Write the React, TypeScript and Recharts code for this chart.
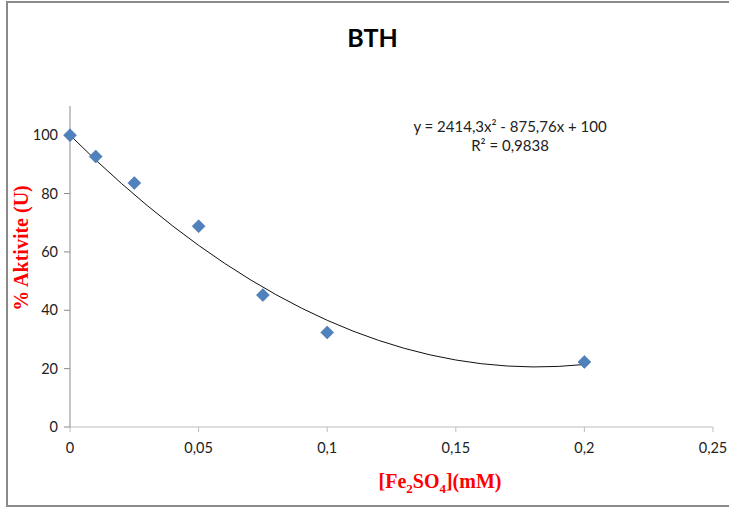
import React from 'react';
import { ScatterChart, Scatter, XAxis, YAxis } from 'recharts';

// Fe2SO4 concentration (mM) vs % activity
const concentrations = [0, 0.01, 0.025, 0.05, 0.075, 0.1, 0.2];
const activity = [100, 92.7, 83.6, 68.8, 45.2, 32.4, 22.3];

const xTicks = [0, 0.05, 0.1, 0.15, 0.2, 0.25];
const yTicks = [0, 20, 40, 60, 80, 100];

// polynomial trendline shown on the chart: y = a*x^2 + b*x + c
const trendCoef = { a: 2414.3, b: -875.76, c: 100 };
const trendX = [
  0, 0.01, 0.02, 0.03, 0.04, 0.05, 0.06, 0.07, 0.08, 0.09, 0.1, 0.11, 0.12,
  0.13, 0.14, 0.15, 0.16, 0.17, 0.18, 0.19, 0.2,
];

const points = concentrations.map((x, i) => ({ x, y: activity[i] }));
const trend = trendX.map(x => ({
  x,
  y: trendCoef.a * x * x + trendCoef.b * x + trendCoef.c,
}));

const fmt = (v: number) => String(v).replace('.', ',');

const Diamond = (props: any) => {
  const { cx, cy } = props;
  const r = 6.5;
  return (
    <polygon
      points={`${cx},${cy - r} ${cx + r},${cy} ${cx},${cy + r} ${cx - r},${cy}`}
      fill="#4F81BD"
      stroke="#3C6DA8"
      strokeWidth={0.5}
    />
  );
};

const tickStyle = { fontFamily: 'Lato, "Open Sans", sans-serif', fontSize: 14.5, fill: '#222' };

export default function App() {
  return (
    <div style={{ position: 'absolute', left: 0, top: 0, width: 729, height: 511, background: '#fff', overflow: 'hidden' }}>
      <div
        style={{
          position: 'absolute', left: 6, top: 1, width: 740, height: 506,
          border: '2px solid #8a8a8a', boxSizing: 'border-box',
        }}
      />
      <div
        style={{
          position: 'absolute', left: 0, width: 745, top: 22, textAlign: 'center',
          fontFamily: 'Lato, "Open Sans", sans-serif', fontWeight: 700, fontSize: 25, color: '#000',
        }}
      >
        BTH
      </div>
      <div
        style={{
          position: 'absolute', left: 390, width: 240, top: 117, textAlign: 'center',
          fontFamily: 'Lato, "Open Sans", sans-serif', fontSize: 15, lineHeight: '19px', color: '#222',
        }}
      >
        <div>y = 2414,3x² - 875,76x + 100</div>
        <div>R² = 0,9838</div>
      </div>
      <div
        style={{
          position: 'absolute', left: 320, width: 240, top: 469, textAlign: 'center',
          fontFamily: '"Liberation Serif", serif', fontWeight: 700, fontSize: 20, lineHeight: '24px', color: '#FF0000',
        }}
      >
        [Fe<sub style={{ fontSize: 13 }}>2</sub>SO<sub style={{ fontSize: 13 }}>4</sub>](mM)
      </div>
      <div
        style={{
          position: 'absolute', left: 21, top: 248, width: 200, marginLeft: -100, marginTop: -12,
          textAlign: 'center', transform: 'rotate(-90deg)', whiteSpace: 'nowrap',
          fontFamily: '"Liberation Serif", serif', fontWeight: 700, fontSize: 20, lineHeight: '24px', color: '#FF0000',
        }}
      >
        % Aktivite (U)
      </div>
      <div style={{ position: 'absolute', left: 0, top: 0 }}>
        <ScatterChart width={729} height={511} margin={{ top: 106, right: 16, bottom: 54, left: 10 }}>
          <XAxis
            type="number"
            dataKey="x"
            domain={[0, 0.25]}
            ticks={xTicks}
            tickFormatter={fmt}
            tick={tickStyle}
            tickSize={5}
            tickMargin={11}
            height={30}
            stroke="#bdbdbd"
            tickLine={{ stroke: '#bdbdbd' }}
          />
          <YAxis
            type="number"
            dataKey="y"
            domain={[0, 110]}
            ticks={yTicks}
            tick={tickStyle}
            tickSize={6}
            tickMargin={6}
            width={60}
            stroke="#8a8a8a"
          />
          <Scatter
            data={trend}
            line={{ stroke: '#111', strokeWidth: 1 }}
            lineType="joint"
            shape={() => <g />}
            isAnimationActive={false}
          />
          <Scatter data={points} shape={Diamond} isAnimationActive={false} />
        </ScatterChart>
      </div>
    </div>
  );
}
